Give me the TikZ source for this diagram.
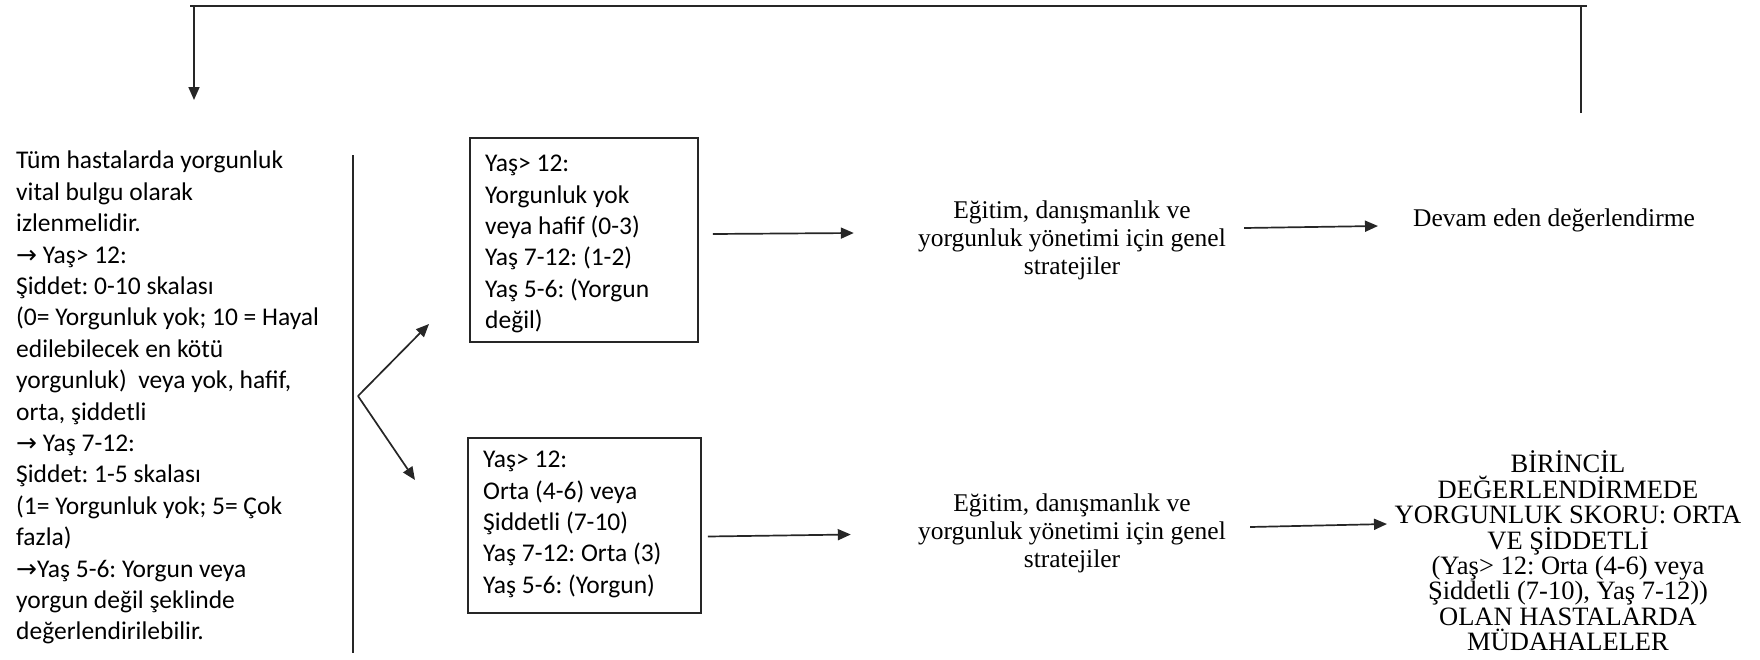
\documentclass[tikz,border=0pt]{standalone}
\usepackage{fontspec}
\setmainfont{Liberation Serif}
\newfontfamily\calibri{Carlito}
\newfontfamily\symfont{DejaVu Sans}
\usetikzlibrary{arrows.meta,fit}
\frenchspacing

\newcommand{\rarr}{{\symfont\fontsize{25}{25}\selectfont →}}

\begin{document}
\frenchspacing
\begin{tikzpicture}[x=1pt,y=-1pt,
  line/.style={draw=black!85, line width=1.7pt},
  arr/.style={line, -{Triangle[length=13pt,width=11pt]}},
  sans/.style={font=\calibri\fontsize{25.5}{31.4}\selectfont, align=left, inner sep=0pt},
  serif/.style={font=\fontsize{25.5}{28}\selectfont, align=center, inner sep=0pt},
  frame/.style={draw=black!85, line width=1.6pt, inner sep=0pt},
]
\useasboundingbox (0,0) rectangle (1760,659);

% assessment text on the left and its divider
\node[sans, anchor=north west] (assess) at (16,151) {%
Tüm hastalarda yorgunluk\\
vital bulgu olarak\\
izlenmelidir.\\
\rarr{} Yaş> 12:\\
Şiddet: 0-10 skalası\\
(0= Yorgunluk yok; 10 = Hayal\\
edilebilecek en kötü\\
yorgunluk)\ \ veya yok, hafif,\\
orta, şiddetli\\
\rarr{} Yaş 7-12:\\
Şiddet: 1-5 skalası\\
(1= Yorgunluk yok; 5= Çok\\
fazla)\\
\rarr Yaş 5-6: Yorgun veya\\
yorgun değil şeklinde\\
değerlendirilebilir.};
\coordinate (divtop) at (353,155);
\coordinate (divbot) at (353,653);
\draw[line] (divtop) -- (divbot);

% score boxes: left-aligned text inside a fitted frame
\node[sans, anchor=north west] (mildtext) at (485,155) {%
Yaş> 12:\\
Yorgunluk yok\\
veya hafif (0-3)\\
Yaş 7-12: (1-2)\\
Yaş 5-6: (Yorgun\\
değil)};
\node[sans, anchor=north west] (severetext) at (483,451) {%
Yaş> 12:\\
Orta (4-6) veya\\
Şiddetli (7-10)\\
Yaş 7-12: Orta (3)\\
Yaş 5-6: (Yorgun)};
\node[frame, fit={(470,138) (698,342)}] (mild) {};
\node[frame, fit={(468,438) (701,613)}] (severe) {};

% branching from the divider
\coordinate (fork) at (358,396);
\draw[arr] (fork) -- (429,324);
\draw[arr] (fork) -- (415,480);

% strategies and outcomes
\node[serif] (strat1) at (1072,240) {Eğitim, danışmanlık ve\\yorgunluk yönetimi için genel\\stratejiler};
\node[serif] (strat2) at (1072,533) {Eğitim, danışmanlık ve\\yorgunluk yönetimi için genel\\stratejiler};
\node[serif] (ongoing) at (1554,220) {Devam eden değerlendirme};
\node[serif, font=\fontsize{26.5}{25.4}\selectfont] (interv) at (1568,551) {%
BİRİNCİL\\
DEĞERLENDİRMEDE\\
YORGUNLUK SKORU: ORTA\\
VE ŞİDDETLİ\\
(Yaş> 12: Orta (4-6) veya\\
Şiddetli (7-10), Yaş 7-12))\\
OLAN HASTALARDA\\
MÜDAHALELER};

\draw[arr] (mild.east) ++(14,-6) -- ++(141,-1);
\draw[arr] (severe.east) ++(6,11) -- ++(143,-2);
\draw[arr] (strat1.east) ++(18,-12) -- ++(134,-2);
\draw[arr] (strat2.east) ++(24,-6) -- ++(137,-3);

% feedback loop back to the start
\coordinate (loopR) at (1581,113);
\coordinate (loopL) at (194,100);
\draw[line] (190,6) -- (1587,6);
\draw[line] (loopR) -- (1581,6);
\draw[arr] (194,6) -- (loopL);
\end{tikzpicture}
\end{document}
